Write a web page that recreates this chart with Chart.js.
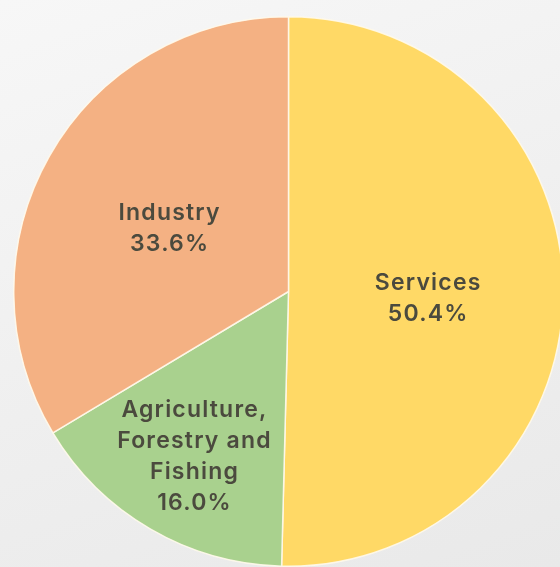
<!DOCTYPE html>
<html>
<head>
<meta charset="utf-8">
<script src="https://cdn.jsdelivr.net/npm/chart.js@4/dist/chart.umd.min.js"></script>
<style>
    html, body {
        margin: 0;
        padding: 0;
        width: 560px;
        height: 567px;
        overflow: hidden;
        background: linear-gradient(160deg, #f7f7f7 0%, #efefef 55%, #e9e9e9 100%);
    }
    #wrap {
        position: absolute;
        left: 13px;
        top: 16px;
        width: 551px;
        height: 551px;
    }
</style>
</head>
<body>
<div id="wrap"><canvas id="pieChart"></canvas></div>
<script>
// Data
const sectors = ['Services', 'Agriculture, Forestry and Fishing', 'Industry'];
const shares = [50.4, 16.0, 33.6];
const labelLines = [
    ['Services'],
    ['Agriculture,', 'Forestry and', 'Fishing'],
    ['Industry']
];

const sliceColors = ['#FFD966', '#A9D18E', '#F4B183'];

// where each label sits, as fraction of radius along the slice's middle angle, plus a nudge
const labelPlace = [
    { r: 0.41, dx: 27, dy: 6 },
    { r: 0.60, dx: -11, dy: 23 },
    { r: 0.56, dx: 15, dy: 13 }
];

const sliceLabels = {
    id: 'sliceLabels',
    afterDatasetsDraw(chart) {
        const ctx = chart.ctx;
        const meta = chart.getDatasetMeta(0);
        ctx.save();
        ctx.font = '600 23px Inter, "Open Sans", sans-serif';
        ctx.letterSpacing = '1.2px';
        ctx.fillStyle = '#4b4a3e';
        ctx.textAlign = 'center';
        ctx.textBaseline = 'middle';
        meta.data.forEach((arc, i) => {
            const p = arc.getProps(['x', 'y', 'startAngle', 'endAngle', 'outerRadius'], true);
            const mid = (p.startAngle + p.endAngle) / 2;
            const r = p.outerRadius * labelPlace[i].r;
            const cx = p.x + Math.cos(mid) * r + labelPlace[i].dx;
            const cy = p.y + Math.sin(mid) * r + labelPlace[i].dy;
            const lines = labelLines[i].concat([shares[i].toFixed(1) + '%']);
            const lh = 31;
            const top = cy - (lines.length - 1) * lh / 2;
            lines.forEach((t, k) => ctx.fillText(t, cx, top + k * lh));
        });
        ctx.restore();
    }
};

new Chart(document.getElementById('pieChart'), {
    type: 'pie',
    data: {
        labels: sectors,
        datasets: [{
            data: shares,
            backgroundColor: sliceColors,
            borderColor: 'rgba(255, 250, 235, 0.9)',
            borderWidth: 1.5
        }]
    },
    options: {
        responsive: true,
        maintainAspectRatio: false,
        animation: false,
        layout: { padding: 0 },
        plugins: {
            legend: { display: false },
            tooltip: { enabled: false }
        }
    },
    plugins: [sliceLabels]
});
</script>
</body>
</html>
